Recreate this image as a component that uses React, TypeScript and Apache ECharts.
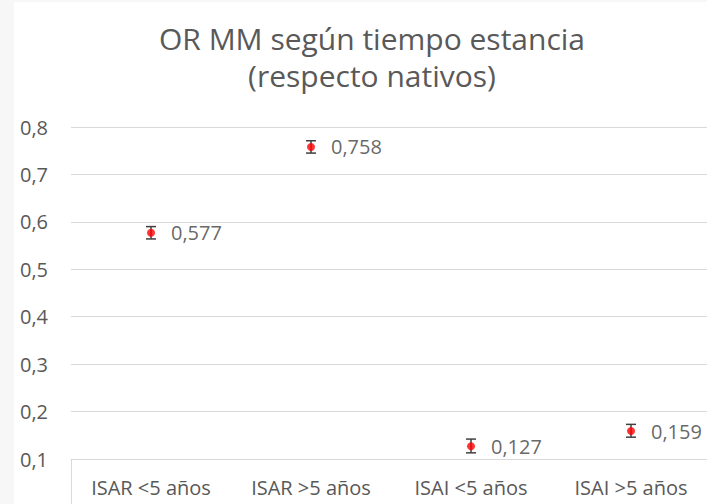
import React, { useEffect, useRef } from "react";
import * as echarts from "echarts";

const categories = ["ISAR <5 años", "ISAR >5 años", "ISAI <5 años", "ISAI >5 años"];
const orValues = [0.577, 0.758, 0.127, 0.159];
const ciLow = [0.564, 0.745, 0.113, 0.146];
const ciHigh = [0.590, 0.771, 0.142, 0.173];
const titleLines = ["OR MM según tiempo estancia", "(respecto nativos)"];
const yMin = 0.1;
const yMax = 0.8;
const yStep = 0.1;

const FONT = "'Open Sans', 'Noto Sans', sans-serif";
const fmt = (v: number, d: number) => v.toFixed(d).replace(".", ",");

export default function App() {
  const ref = useRef<HTMLDivElement>(null);
  useEffect(() => {
    if (!ref.current) return;
    const chart = echarts.init(ref.current, undefined, { renderer: "svg" });
    chart.setOption({
      animation: false,
      backgroundColor: "#ffffff",
      graphic: [
        {
          type: "text",
          x: 358,
          y: 36,
          style: {
            text: titleLines[0],
            fill: "#595959",
            font: `30px ${FONT}`,
            textAlign: "center",
            textVerticalAlign: "middle",
          },
        },
        {
          type: "text",
          x: 358,
          y: 73,
          style: {
            text: titleLines[1],
            fill: "#595959",
            font: `30px ${FONT}`,
            textAlign: "center",
            textVerticalAlign: "middle",
          },
        },
      ],
      grid: { left: 57, right: 3, top: 125, bottom: 45, containLabel: false },
      xAxis: {
        type: "category",
        data: categories,
        boundaryGap: true,
        axisLine: { show: true, lineStyle: { color: "#d9d9d9", width: 1 } },
        axisTick: {
          show: true,
          length: 50,
          interval: (i: number) => i === 0,
          lineStyle: { color: "#d9d9d9" },
        },
        axisLabel: { color: "#595959", fontFamily: FONT, fontSize: 20, margin: 18 },
        splitLine: { show: false },
      },
      yAxis: {
        type: "value",
        min: yMin,
        max: yMax,
        interval: yStep,
        axisLine: { show: false },
        axisTick: { show: false },
        axisLabel: {
          color: "#595959",
          fontFamily: FONT,
          fontSize: 20,
          margin: 23,
          formatter: (v: number) => fmt(v, 1),
        },
        splitLine: { show: true, lineStyle: { color: "#d9d9d9", width: 1 } },
      },
      series: [
        {
          type: "custom",
          data: categories.map((_, i) => [i, ciLow[i], ciHigh[i]]),
          encode: { x: 0, y: [1, 2] },
          z: 3,
          renderItem: (params: any, api: any) => {
            const lo = api.coord([api.value(0), api.value(1)]);
            const hi = api.coord([api.value(0), api.value(2)]);
            const hw = 5;
            const style = { stroke: "#404040", lineWidth: 1.5 };
            return {
              type: "group",
              children: [
                { type: "line", shape: { x1: lo[0], y1: lo[1], x2: hi[0], y2: hi[1] }, style },
                { type: "line", shape: { x1: lo[0] - hw, y1: lo[1], x2: lo[0] + hw, y2: lo[1] }, style },
                { type: "line", shape: { x1: hi[0] - hw, y1: hi[1], x2: hi[0] + hw, y2: hi[1] }, style },
              ],
            };
          },
        },
        {
          type: "scatter",
          data: categories.map((c, i) => [c, orValues[i]]),
          symbol: "circle",
          symbolSize: 8,
          z: 4,
          itemStyle: { color: "#ff0000" },
          label: {
            show: true,
            position: "right",
            distance: 16,
            color: "#404040",
            fontFamily: FONT,
            fontSize: 20,
            formatter: (p: any) => fmt(p.value[1], 3),
          },
        },
      ],
    });
    return () => chart.dispose();
  }, []);
  return (
    <div
      style={{
        position: "absolute",
        left: 0,
        top: 0,
        width: 707,
        height: 504,
        overflow: "hidden",
        background: "#f7f7f7",
      }}
    >
      <div
        ref={ref}
        style={{ position: "absolute", left: 14, top: 2, width: 700, height: 502, background: "#ffffff" }}
      />
    </div>
  );
}
